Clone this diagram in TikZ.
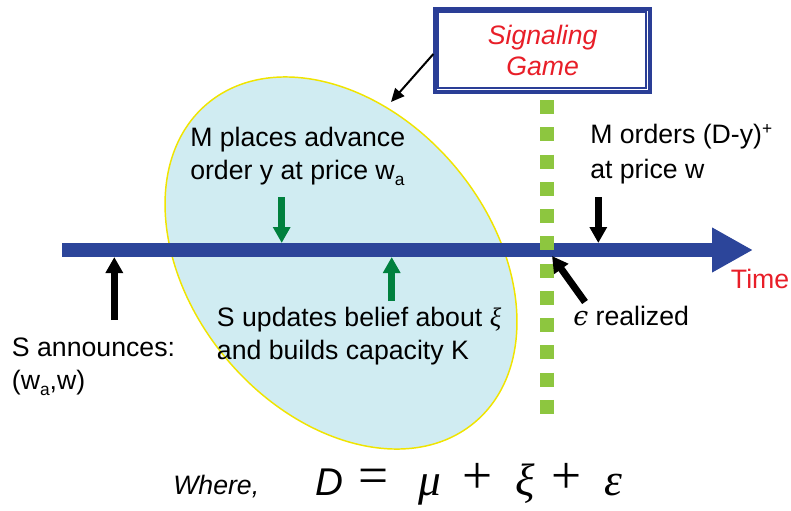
\documentclass[tikz,border=0pt]{standalone}
\usepackage{fontspec}
\setmainfont{Liberation Sans}
\newfontfamily\grkfont{Liberation Serif}
\newfontfamily\lunfont{DejaVu Serif}
\usetikzlibrary{arrows.meta,shapes.geometric}
\definecolor{barblue}{RGB}{44,69,154}
\definecolor{boxblue}{RGB}{42,62,150}
\definecolor{sigred}{RGB}{232,30,40}
\definecolor{arrgreen}{RGB}{0,128,62}
\definecolor{dashgreen}{RGB}{141,198,63}
\definecolor{ellblue}{RGB}{208,236,242}
\definecolor{ellyel}{RGB}{240,228,0}
\newcommand{\subsc}[1]{\raisebox{-4.5pt}{\fontsize{13}{13}\selectfont #1}}
\newcommand{\supsc}[1]{\raisebox{7pt}{\fontsize{13}{13}\selectfont #1}}
\begin{document}
\begin{tikzpicture}[x=0.75pt,y=-0.75pt,
  lab/.style={anchor=base west, inner sep=0pt, align=left, font=\fontsize{20}{24.5}\selectfont},
  eqop/.style={anchor=base, inner sep=0pt, font=\fontsize{40}{40}\selectfont\grkfont},
  eqgrk/.style={anchor=base, inner sep=0pt, font=\fontsize{34}{34}\selectfont\grkfont\itshape},
  blockarrow/.style={line width=5.25pt, -{Triangle[length=12pt,width=12.5pt]}},
  thinarrow/.style={line width=1.5pt, -{Triangle[length=10pt,width=9pt]}}]
\useasboundingbox (0,0) rectangle (791,510);
% ellipse
\node[ellipse, draw=ellyel, line width=1.1pt, fill=ellblue, minimum width=312pt,
      minimum height=224pt, inner sep=0pt, rotate=-50] (ell) at (341,263) {};
% timeline
\coordinate (tstart) at (62,250);
\coordinate (tend) at (753,250);
\draw[barblue, line width=10.5pt, -{Triangle[length=30.75pt,width=31.5pt]}] (tstart) -- (tend);
% green dotted divider
\coordinate (dtop) at (546.5,100);
\coordinate (dbot) at (546.5,414);
\draw[dashgreen, line width=10.5pt, dash pattern=on 10.5pt off 9.95pt] (dtop) -- (dbot);
% signaling game box
\node[draw=boxblue, line width=3pt, fill=white, minimum width=161pt, minimum height=62.25pt,
      inner sep=0pt, align=center, text=sigred, font=\fontsize{20}{23}\selectfont\itshape]
      (box) at (542.7,50.8) {\raisebox{-1.5pt}{Signaling}\\\raisebox{-1.5pt}{Game}};
\draw[boxblue, line width=1.5pt] ([shift={(3.75pt,-3.75pt)}]box.north west)
      rectangle ([shift={(-4.9pt,4.5pt)}]box.south east);
\coordinate (ellhit) at (391,102);
\draw[thinarrow] ([yshift=-2.4pt]box.west) -- (ellhit);
% arrows onto the timeline
\coordinate (annTail) at (114.3,320);
\coordinate (annTip) at (114.3,257);
\coordinate (advTail) at (281.7,197);
\coordinate (advTip) at (281.7,243);
\coordinate (updTail) at (391.7,301);
\coordinate (updTip) at (391.7,257);
\coordinate (ordTail) at (598.3,197);
\coordinate (ordTip) at (598.3,243);
\coordinate (epsTail) at (585,302);
\coordinate (epsTip) at (552,256);
\draw[blockarrow, black] (annTail) -- (annTip);
\draw[blockarrow, arrgreen] (advTail) -- (advTip);
\draw[blockarrow, arrgreen] (updTail) -- (updTip);
\draw[blockarrow, black] (ordTail) -- (ordTip);
\draw[blockarrow, black] (epsTail) -- (epsTip);
% labels (base = baseline of last line)
\node[lab] (labAdv) at (190,179.3) {M places advance\\order y at price w\subsc{a}};
\node[lab] (labUpd) at (216.7,359.3) {S updates belief about {\grkfont\itshape ξ}\\and builds capacity K};
\node[lab] (labAnn) at (11.7,389) {S announces:\\(w\subsc{a},w)};
\node[lab] (labOrd) at (590,178.3) {M orders (D-y)\supsc{+}\\[1.5pt]at price w};
\node[lab] (labEps) at (573,325) {{\lunfont\itshape ϵ} realized};
\node[lab, text=sigred] (labTime) at (730.7,288.3) {Time};
\node[lab, font=\fontsize{20}{24}\selectfont\itshape] (labWhere) at (173,494) {Where,};
% equation
\node[anchor=base, inner sep=0pt, font=\fontsize{29}{29}\selectfont\itshape] (eqD) at (329,495) {D};
\node[eqop] (eqEq) at (374,493) {=};
\node[eqgrk] (eqMu) at (430,495) {μ};
\node[eqop] (eqPa) at (478,493) {+};
\node[eqgrk] (eqXi) at (525,495) {ξ};
\node[eqop] (eqPb) at (567,493) {+};
\node[eqgrk] (eqEps) at (613,495) {ε};
\end{tikzpicture}
\end{document}
